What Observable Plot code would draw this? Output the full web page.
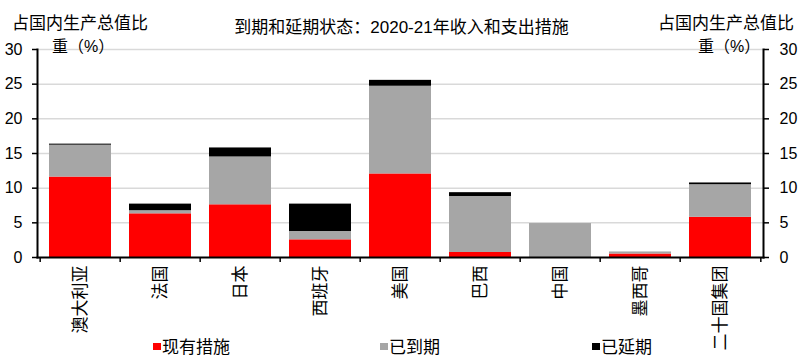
<!DOCTYPE html>
<html>
<head>
<meta charset="utf-8">
<script src="https://cdn.jsdelivr.net/npm/d3@7"></script>
<script src="https://cdn.jsdelivr.net/npm/@observablehq/plot@0.6"></script>
<style>
  body { margin: 0; background: #fff; font-family: "Liberation Sans", Arial, "Noto Sans CJK SC", sans-serif; }
  #wrap { position: relative; width: 803px; height: 363px; overflow: hidden; }
  #wrap svg { position: absolute; left: 0; top: 0; }
  .txt { position: absolute; color: #000; white-space: nowrap; line-height: 1; }
  .sw { position: absolute; width: 8px; height: 7px; }
</style>
</head>
<body>
<div id="wrap"></div>
<script>
const categories = ["澳大利亚", "法国", "日本", "西班牙", "美国", "巴西", "中国", "墨西哥", "二十国集团"];
const seriesNames = ["现有措施", "已到期", "已延期"];
const seriesColors = ["#FF0000", "#A6A6A6", "#000000"];
const existing = [11.6, 6.3, 7.6, 2.55, 12.05, 0.72, 0, 0.5, 5.8];
const expired = [4.6, 0.45, 6.9, 1.2, 12.65, 8.08, 4.9, 0.3, 4.7];
const extended = [0.15, 0.95, 1.3, 3.95, 0.85, 0.55, 0, 0, 0.25];
const yTicks = [0, 5, 10, 15, 20, 25, 30];
const title = "到期和延期状态：2020-21年收入和支出措施";
const axisLabel1 = "占国内生产总值比";
const axisLabel2 = "重（%）";

const seriesValues = [existing, expired, extended];
const rows = [];
categories.forEach((c, i) => {
  seriesNames.forEach((s, k) => rows.push({cat: c, series: s, value: seriesValues[k][i]}));
});

const W = 803, H = 363, mL = 37, mR = 40, mT = 49, mB = 106;
const step = (W - mL - mR) / categories.length;

const chart = Plot.plot({
  width: W, height: H,
  marginLeft: mL, marginRight: mR, marginTop: mT, marginBottom: mB,
  style: {fontFamily: '"Liberation Sans", Arial, "Noto Sans CJK SC", sans-serif', fontSize: "16px", color: "#000", background: "transparent"},
  x: {domain: categories, paddingInner: 0.23, paddingOuter: 0.115, label: null},
  y: {domain: [0, 30], label: null},
  color: {domain: seriesNames, range: seriesColors},
  marks: [
    Plot.ruleY(yTicks.filter(d => d > 0), {y: d => d, stroke: "#D9D9D9", strokeWidth: 1.5}),
    Plot.barY(rows, {x: "cat", y: "value", fill: "series", order: seriesNames}),
    Plot.frame({anchor: "left", stroke: "#000", strokeWidth: 2}),
    Plot.frame({anchor: "right", stroke: "#000", strokeWidth: 2}),
    Plot.frame({anchor: "bottom", stroke: "#000", strokeWidth: 2}),
    Plot.ruleX(categories, {x: d => d, y1: 0, y2: 0, dx: -step / 2, insetBottom: -5, stroke: "#000", strokeWidth: 1.5}),
    Plot.ruleX(categories.slice(-1), {x: d => d, y1: 0, y2: 0, dx: step / 2, insetBottom: -5, stroke: "#000", strokeWidth: 1.5}),
    Plot.axisY({anchor: "left", ticks: yTicks, tickSize: 5, tickPadding: 10, strokeWidth: 1.5, fontSize: 16, label: null}),
    Plot.axisY({anchor: "right", ticks: yTicks, tickSize: 5, tickPadding: 11, strokeWidth: 1.5, fontSize: 16, label: null}),
    Plot.axisX({tickSize: 0, tickPadding: 8, tickRotate: -90, fontSize: 17, label: null})
  ]
});

const wrap = document.getElementById("wrap");
wrap.appendChild(chart);

function addText(str, left, top, size, extra) {
  const d = document.createElement("div");
  d.className = "txt";
  d.textContent = str;
  d.style.left = left + "px";
  d.style.top = top + "px";
  d.style.fontSize = size + "px";
  if (extra) Object.assign(d.style, extra);
  wrap.appendChild(d);
  return d;
}
addText(title, 0, 19, 17, {width: "803px", textAlign: "center"});
addText(axisLabel1, 12, 15, 17);
addText(axisLabel2, 52, 39, 16);
addText(axisLabel1, 658, 15, 17);
addText(axisLabel2, 698, 39, 16);

const legendPos = [153, 380, 592];
seriesNames.forEach((s, k) => {
  const sw = document.createElement("div");
  sw.className = "sw";
  sw.style.left = legendPos[k] + "px";
  sw.style.top = "343px";
  sw.style.background = seriesColors[k];
  wrap.appendChild(sw);
  addText(s, legendPos[k] + 9, 339, 17);
});
</script>
</body>
</html>
